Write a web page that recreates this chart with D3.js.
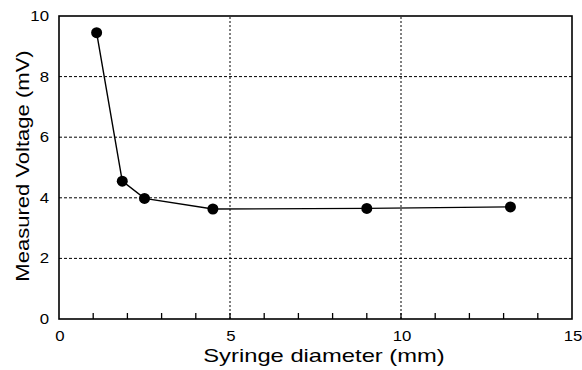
<!DOCTYPE html>
<html>
<head>
<meta charset="utf-8">
<script src="https://cdn.jsdelivr.net/npm/d3@7"></script>
<style>
  body { margin: 0; background: #fff; }
  svg { display: block; font-family: "Liberation Sans", Arial, sans-serif; }
</style>
</head>
<body>
<div id="chart"></div>
<script>
// syringe diameter (mm) vs measured voltage (mV)
const diameters = [1.1, 1.85, 2.5, 4.5, 9.0, 13.2];
const voltages = [9.45, 4.55, 3.98, 3.63, 3.65, 3.7];
const xTicks = [0, 5, 10, 15];
const yTicks = [0, 2, 4, 6, 8, 10];

const width = 582, height = 370;
const margin = {top: 16, right: 10, bottom: 51, left: 59};
const stretch = 1.2; // the scanned figure's text is wider than it is tall

const svg = d3.select('#chart').append('svg')
    .attr('width', width)
    .attr('height', height);

const x = d3.scaleLinear().domain([0, 15]).range([margin.left, width - margin.right]);
const y = d3.scaleLinear().domain([0, 10]).range([height - margin.bottom, margin.top]);

// grid lines
const grid = svg.append('g');
yTicks.filter(d => d > 0 && d < 10).forEach(d => {
    grid.append('line')
        .attr('x1', x(0)).attr('x2', x(15))
        .attr('y1', y(d)).attr('y2', y(d))
        .attr('stroke', '#000').attr('stroke-width', 1)
        .attr('stroke-dasharray', '3,2');
});
xTicks.filter(d => d > 0 && d < 15).forEach(d => {
    grid.append('line')
        .attr('x1', x(d)).attr('x2', x(d))
        .attr('y1', y(0)).attr('y2', y(10))
        .attr('stroke', '#000').attr('stroke-width', 1)
        .attr('stroke-dasharray', '2,2');
});

// minor ticks on the bottom, pointing inward
const minor = d3.range(1, 15);
svg.append('g').selectAll('line')
    .data(minor)
    .join('line')
    .attr('x1', d => x(d)).attr('x2', d => x(d))
    .attr('y1', y(0)).attr('y2', y(0) - 6)
    .attr('stroke', '#000').attr('stroke-width', 1.3);

// frame
svg.append('rect')
    .attr('x', x(0)).attr('y', y(10))
    .attr('width', x(15) - x(0)).attr('height', y(0) - y(10))
    .attr('fill', 'none').attr('stroke', '#000').attr('stroke-width', 1.6);

// tick labels
svg.append('g').selectAll('text')
    .data(yTicks)
    .join('text')
    .attr('transform', d => `translate(${margin.left - 10},${y(d)}) scale(${stretch},1)`)
    .attr('dy', '0.36em')
    .attr('text-anchor', 'end')
    .attr('font-size', 14)
    .text(d => d);

svg.append('g').selectAll('text')
    .data(xTicks)
    .join('text')
    .attr('transform', d => `translate(${x(d) + 1},${y(0) + 22}) scale(${stretch},1)`)
    .attr('text-anchor', 'middle')
    .attr('font-size', 14)
    .text(d => d);

// axis titles
svg.append('text')
    .attr('transform', `translate(324,362) scale(${stretch + 0.05},1)`)
    .attr('text-anchor', 'middle')
    .attr('font-size', 19)
    .text('Syringe diameter (mm)');

svg.append('text')
    .attr('transform', `translate(29,166) rotate(-90) scale(1.16,1)`)
    .attr('text-anchor', 'middle')
    .attr('font-size', 19)
    .text('Measured Voltage (mV)');

// data line + markers
const data = diameters.map((d, i) => ({x: d, y: voltages[i]}));
const line = d3.line().x(d => x(d.x)).y(d => y(d.y));

svg.append('path')
    .datum(data)
    .attr('d', line)
    .attr('fill', 'none')
    .attr('stroke', '#000')
    .attr('stroke-width', 1.4);

svg.append('g').selectAll('circle')
    .data(data)
    .join('circle')
    .attr('cx', d => x(d.x))
    .attr('cy', d => y(d.y))
    .attr('r', 5.5)
    .attr('fill', '#000');
</script>
</body>
</html>
